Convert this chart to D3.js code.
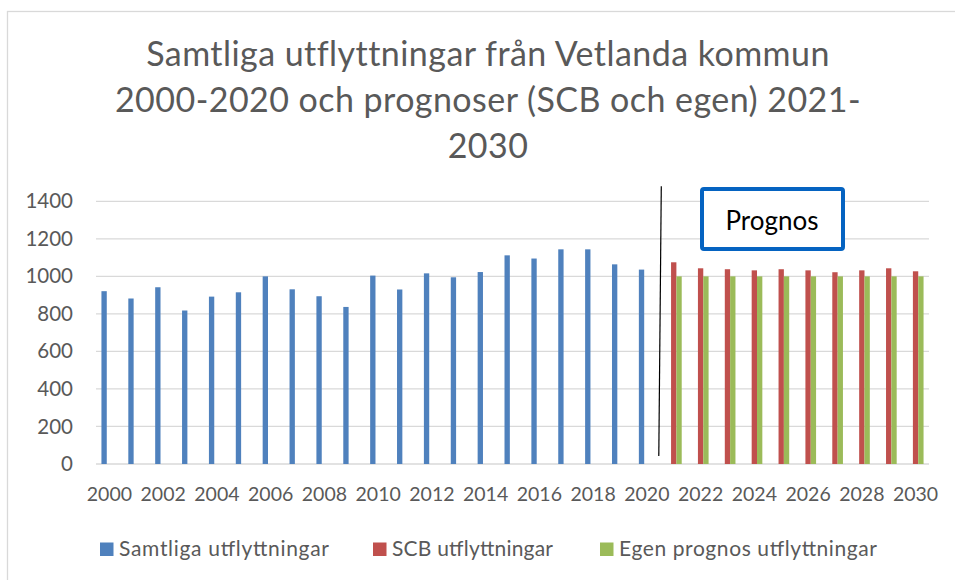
<!DOCTYPE html>
<html>
<head>
<meta charset="utf-8">
<script src="https://cdn.jsdelivr.net/npm/d3@7"></script>
<style>
  body { margin: 0; background: #fff; }
  svg text { font-family: Lato, "Noto Sans", sans-serif; fill: #595959; }
</style>
</head>
<body>
<svg id="chart" width="955" height="580"></svg>
<script>
// Years on the x axis, 2000-2030
var years = ["2000","2001","2002","2003","2004","2005","2006","2007","2008","2009",
             "2010","2011","2012","2013","2014","2015","2016","2017","2018","2019",
             "2020","2021","2022","2023","2024","2025","2026","2027","2028","2029","2030"];

// Samtliga utflyttningar (outcome 2000-2020)
var samtliga = [921, 882, 942, 818, 892, 915, 1000, 931, 894, 837,
                1004, 930, 1016, 995, 1023, 1112, 1095, 1144, 1144, 1064, 1036];

// SCB prognosis 2021-2030
var scb = [1075, 1043, 1038, 1032, 1038, 1032, 1022, 1032, 1043, 1027];

// Own prognosis 2021-2030
var egen = [1000, 1000, 1000, 1000, 1000, 1000, 1000, 1000, 1000, 1000];

var yTicks = [0, 200, 400, 600, 800, 1000, 1200, 1400];
var titleLines = ["Samtliga utflyttningar från Vetlanda kommun",
                  "2000-2020 och prognoser (SCB och egen) 2021-",
                  "2030"];
var seriesNames = ["Samtliga utflyttningar", "SCB utflyttningar", "Egen prognos utflyttningar"];
var colors = ["#4f81bd", "#c0504d", "#9bbb59"];

var svg = d3.select("#chart");

// outer chart border (runs off the right/bottom edge like the source)
svg.append("rect")
    .attr("x", 7.5).attr("y", 11.5)
    .attr("width", 960).attr("height", 600)
    .attr("fill", "#fff")
    .attr("stroke", "#d9d9d9")
    .attr("stroke-width", 1.3);

var plot = { left: 96, right: 929, top: 201.3, bottom: 464 };

var x = d3.scaleBand()
    .domain(years)
    .range([plot.left, plot.right])
    .paddingInner(0.405)
    .paddingOuter(0.2025);

var sub = d3.scaleBand()
    .domain([0, 1, 2])
    .range([0, x.bandwidth()]);

var y = d3.scaleLinear()
    .domain([0, 1400])
    .range([plot.bottom, plot.top]);

// title
svg.append("g").selectAll("text")
    .data(titleLines)
    .enter().append("text")
    .attr("x", 488)
    .attr("y", function(d, i) { return 66 + i * 46; })
    .attr("text-anchor", "middle")
    .style("font-size", "34px")
    .style("letter-spacing", "0.45px")
    .text(function(d) { return d; });

// gridlines
svg.append("g").selectAll("line")
    .data(yTicks)
    .enter().append("line")
    .attr("x1", plot.left).attr("x2", plot.right)
    .attr("y1", function(d) { return y(d); })
    .attr("y2", function(d) { return y(d); })
    .attr("stroke", "#d9d9d9")
    .attr("stroke-width", 1.3);

// y axis labels
var yAxis = d3.axisLeft(y).tickValues(yTicks).tickFormat(d3.format("d"))
    .tickSize(0).tickPadding(23);
var gy = svg.append("g")
    .attr("transform", "translate(" + plot.left + ",0)")
    .call(yAxis);
gy.select(".domain").remove();
gy.selectAll("text")
    .style("font-size", "20.5px")
    .style("font-family", "Lato, 'Noto Sans', sans-serif")
    .attr("fill", "#595959");

// x axis labels (every other year)
var xAxis = d3.axisBottom(x)
    .tickValues(years.filter(function(d, i) { return i % 2 == 0; }))
    .tickSize(0).tickPadding(23);
var gx = svg.append("g")
    .attr("transform", "translate(0," + plot.bottom + ")")
    .call(xAxis);
gx.select(".domain").remove();
gx.selectAll("text")
    .style("font-size", "19.5px")
    .style("font-family", "Lato, 'Noto Sans', sans-serif")
    .attr("fill", "#595959");

// bars
function drawSeries(values, startYear, idx) {
    var data = values.map(function(v, i) {
        return { year: String(startYear + i), value: v };
    });
    svg.append("g").selectAll("rect")
        .data(data)
        .enter().append("rect")
        .attr("x", function(d) { return x(d.year) + sub(idx); })
        .attr("width", sub.bandwidth())
        .attr("y", function(d) { return y(d.value); })
        .attr("height", function(d) { return y(0) - y(d.value); })
        .attr("fill", colors[idx]);
}
drawSeries(samtliga, 2000, 0);
drawSeries(scb, 2021, 1);
drawSeries(egen, 2021, 2);

// divider line between outcome and prognosis
var splitX = (x("2020") + x.bandwidth() + x("2021")) / 2;
svg.append("line")
    .attr("x1", splitX + 1).attr("y1", y(1480))
    .attr("x2", splitX - 1.5).attr("y2", y(43))
    .attr("stroke", "#000")
    .attr("stroke-width", 1.2);

// "Prognos" box
svg.append("rect")
    .attr("x", 702).attr("y", 189)
    .attr("width", 141).attr("height", 60)
    .attr("rx", 2)
    .attr("fill", "#fff")
    .attr("stroke", "#0563c1")
    .attr("stroke-width", 4);
svg.append("text")
    .attr("x", 772).attr("y", 230)
    .attr("text-anchor", "middle")
    .style("font-size", "26px")
    .style("fill", "#000")
    .text("Prognos");

// legend
var legendX = [100, 373, 600];
var legendW = [210, 161, 258];
var legend = svg.append("g").selectAll("g")
    .data(seriesNames)
    .enter().append("g")
    .attr("transform", function(d, i) { return "translate(" + legendX[i] + ",542.5)"; });
legend.append("rect")
    .attr("width", 13.5).attr("height", 13.5)
    .attr("fill", function(d, i) { return colors[i]; });
legend.append("text")
    .attr("x", 19).attr("y", 13.5)
    .attr("textLength", function(d, i) { return legendW[i]; })
    .attr("lengthAdjust", "spacing")
    .style("font-size", "21px")
    .text(function(d) { return d; });
</script>
</body>
</html>
